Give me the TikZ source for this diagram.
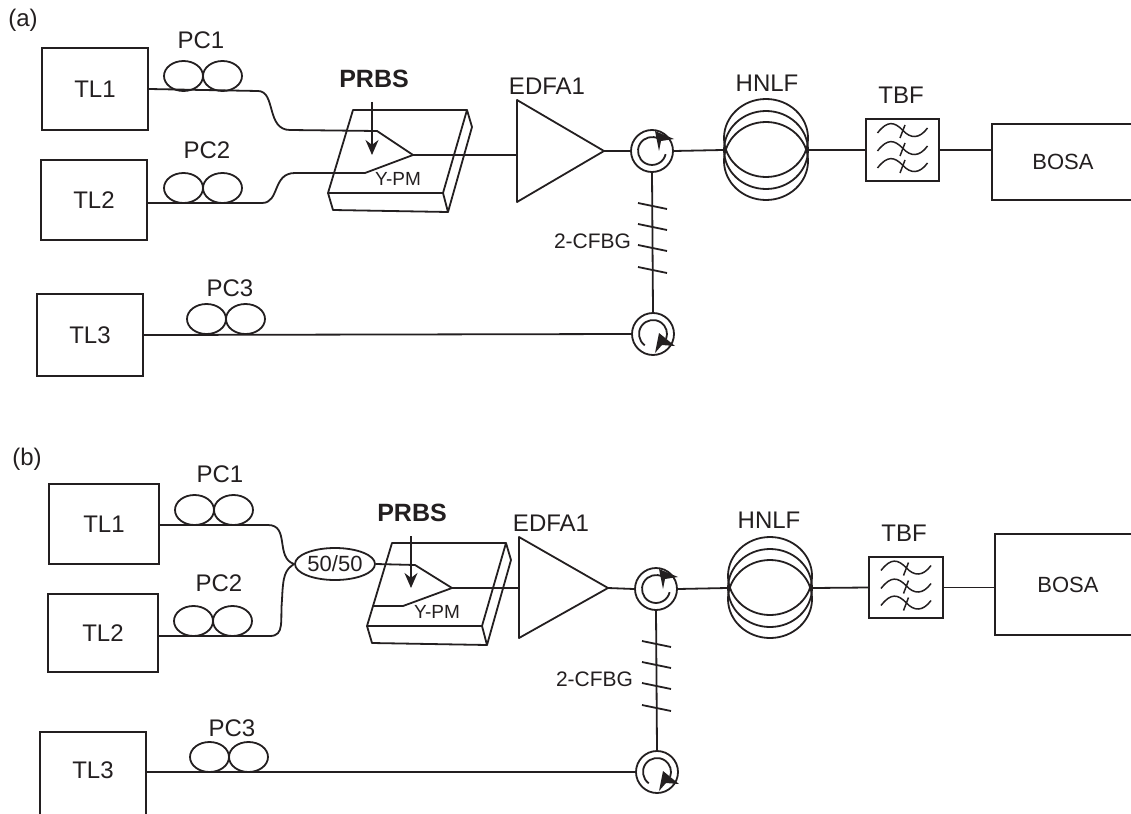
\documentclass[tikz,border=0pt]{standalone}
\usepackage{fontspec}
\setmainfont{Liberation Sans}
\usetikzlibrary{arrows.meta,shapes.geometric}
\definecolor{tinta}{HTML}{231F20}
\tikzset{
	laser/.style={draw,line width=1.8pt,minimum width=106pt,minimum height=82pt,inner sep=0pt,font=\fontsize{24}{28}\selectfont},
	fibre/.style={line width=1.8pt,line join=round},
	lbl/.style={font=\fontsize{24}{28}\selectfont,inner sep=0pt},
	lblsmall/.style={font=\fontsize{21}{24}\selectfont,inner sep=0pt},
	prbs/.style={font=\fontsize{25}{28}\bfseries\selectfont,inner sep=0pt},
	circulator/.style={draw,circle,line width=1.8pt,minimum size=42pt,inner sep=0pt},
	coil/.style={draw,ellipse,line width=1.8pt,minimum width=84pt,minimum height=78pt,inner sep=0pt},
	filterbox/.style={draw,line width=1.8pt,minimum width=73pt,minimum height=62pt,inner sep=0pt},
	coupler/.style={draw,ellipse,line width=1.8pt,minimum width=80pt,minimum height=32pt,inner sep=0pt,font=\fontsize{22}{26}\selectfont},
	pc/.pic={
		\draw[fibre] (-19.5,-15) ellipse (19.5 and 15);
		\draw[fibre] (19.5,-15) ellipse (19.5 and 15);
	},
	ypm/.pic={
		\draw[fibre] (353,110) -- (328,193) -- (443,193) -- (467,110) -- cycle;
		\draw[fibre] (328,193) -- (333,210) -- (448,212) -- (443,193);
		\draw[fibre] (448,212) -- (472,127) -- (467,110);
	},
	circtop/.pic={
		\draw[line width=1.8pt] (60:14pt) arc[start angle=60,end angle=347,radius=14pt];
		\fill (3pt,20pt) -- (22pt,12pt) -- (9pt,10pt) -- (7pt,0pt) -- cycle;
	},
	circbot/.pic={
		\draw[line width=1.8pt] (234:14pt) arc[start angle=234,end angle=-20,radius=14pt];
		\fill (6pt,1pt) -- (22pt,-12pt) -- (9pt,-11pt) -- (2pt,-19pt) -- cycle;
	},
	tbfwaves/.pic={
		\foreach \dy in {0,18,35}{
			\draw[line width=1.5pt] (-25,-17+\dy) .. controls (-15,-30+\dy) and (-8,-28+\dy) .. (0,-20+\dy) .. controls (8,-11+\dy) and (17,-11+\dy) .. (25,-22+\dy);
			\draw[line width=1.5pt] (2.5,-25+\dy) -- (-2.5,-12+\dy);
		}
	}
}
\begin{document}
\begin{tikzpicture}[x=1pt,y=-1pt,color=tinta]
	\useasboundingbox (0,0) rectangle (1131,813);

	%Figura (a)
	\node[lbl] (taga) at (23,20) {(a)};
	\node[laser] (tl1a) at (95,89) {TL1};
	\node[laser,minimum height=80pt] (tl2a) at (94,200) {TL2};
	\node[laser] (tl3a) at (90,335) {TL3};
	\node[laser,minimum width=142pt,minimum height=76pt,font=\fontsize{22}{26}\selectfont] (bosaa) at (1063,162) {BOSA};

	%Controladores de polarizacion
	\pic at (203,91) {pc};
	\pic at (203,203) {pc};
	\pic at (226,334) {pc};
	\node[lbl] (pc1a) at (201,40) {PC1};
	\node[lbl] (pc2a) at (207,150) {PC2};
	\node[lbl] (pc3a) at (230,288) {PC3};

	%Modulador
	\pic at (0,0) {ypm};
	\coordinate (joina) at (413,155);
	\draw[fibre] (tl1a.east) -- (258,91) .. controls (276,91) and (266,130) .. (290,130) -- (377,131) -- (joina);
	\draw[fibre] (tl2a.east |- 0,203) -- (262,203) .. controls (280,203) and (272,173) .. (295,173) -- (365,173) -- (joina);
	\node[prbs] (prbsa) at (374,79) {PRBS};
	\coordinate (taila) at (372,102);
	\draw[-{Stealth[length=15pt,width=13pt]},line width=1.8pt] (taila) -- (372,155);
	\node[lblsmall,font=\fontsize{19}{22}\selectfont] (pma) at (398,179) {Y-PM};

	%Amplificador, circuladores y fibra
	\coordinate (edfaain) at (517,155);
	\coordinate (edfaaout) at (604,151);
	\draw[fibre] (517,100) -- (edfaaout) -- (517,202) -- cycle;
	\draw[fibre] (joina) -- (edfaain);
	\node[lbl] (edfaa) at (547,86) {EDFA1};
	\node[circulator] (ca1) at (652,151) {};
	\node[circulator] (ca2) at (653,334) {};
	\pic at (ca1) {circtop};
	\pic at (ca2) {circbot};
	\draw[fibre] (edfaaout) -- (ca1.west);
	\draw[fibre] (ca1.south) -- (ca2.north);
	\draw[fibre] (tl3a.east) -- (ca2.west);
	\foreach \ty in {203,224,245,267}
		\draw[fibre] (638,\ty) -- (667,\ty+6);
	\node[lblsmall] (cfbga) at (592.5,241) {2-CFBG};
	\node[coil] (hnlfa) at (766,150) {};
	\draw[fibre] (766,138) ellipse (42 and 39);
	\draw[fibre] (766,161) ellipse (42 and 39);
	\node[lbl] (hnlflabela) at (767,83) {HNLF};
	\draw[fibre] (ca1.east) -- (hnlfa.west);

	%Filtro
	\node[filterbox] (tbfa) at (902.5,150) {};
	\pic at (tbfa) {tbfwaves};
	\node[lbl] (tbflabela) at (901,95) {TBF};
	\draw[fibre] (hnlfa.east) -- (tbfa.west);
	\draw[fibre] (tbfa.east) -- (bosaa.west |- tbfa.east);

	%Figura (b)
	\node[lbl] (tagb) at (27,459) {(b)};
	\node[laser,minimum width=110pt,minimum height=80pt] (tl1b) at (104,524) {TL1};
	\node[laser,minimum width=110pt,minimum height=78pt] (tl2b) at (103,633) {TL2};
	\node[laser,minimum height=100pt] (tl3b) at (93,782) {};
	\node[lbl] (tl3blabel) at (93,770) {TL3};
	\node[laser,minimum width=146pt,minimum height=101pt,font=\fontsize{22}{26}\selectfont] (bosab) at (1068,584.5) {BOSA};

	%Controladores de polarizacion
	\pic at (214,525) {pc};
	\pic at (213,636) {pc};
	\pic at (229,772) {pc};
	\node[lbl] (pc1b) at (220,474) {PC1};
	\node[lbl] (pc2b) at (219,583) {PC2};
	\node[lbl] (pc3b) at (232,728) {PC3};

	%Acoplador y modulador
	\node[coupler] (fiftyb) at (335,564) {50/50};
	\draw[fibre] (tl1b.east |- 0,525) -- (268,525) .. controls (290,525) and (275,558) .. (fiftyb.west);
	\draw[fibre] (tl2b.east |- 0,636) -- (270,636) .. controls (285,636) and (280,620) .. (282,600) .. controls (283,575) and (285,570) .. (fiftyb.west);
	\pic at (39,433) {ypm};
	\coordinate (joinb) at (452,588);
	\draw[fibre] (fiftyb.east) -- (415,565) -- (joinb);
	\draw[fibre] (373,606) -- (403,606) -- (joinb);
	\node[prbs] (prbsb) at (412,513) {PRBS};
	\coordinate (tailb) at (411,536);
	\draw[-{Stealth[length=15pt,width=13pt]},line width=1.8pt] (tailb) -- (411,588);
	\node[lblsmall,font=\fontsize{19}{22}\selectfont] (pmb) at (437,612) {Y-PM};

	%Amplificador, circuladores y fibra
	\coordinate (edfabin) at (519,588);
	\coordinate (edfabout) at (608,588);
	\draw[fibre] (519,537) -- (edfabout) -- (519,638) -- cycle;
	\draw[fibre] (joinb) -- (edfabin);
	\node[lbl] (edfab) at (551,523) {EDFA1};
	\node[circulator] (cb1) at (656,589) {};
	\node[circulator] (cb2) at (657,772) {};
	\pic at (cb1) {circtop};
	\pic at (cb2) {circbot};
	\draw[fibre] (edfabout) -- (cb1.west);
	\draw[fibre] (cb1.south) -- (cb2.north);
	\draw[fibre] (tl3b.east |- cb2.west) -- (cb2.west);
	\foreach \ty in {641,662,683,705}
		\draw[fibre] (642,\ty) -- (671,\ty+6);
	\node[lblsmall] (cfbgb) at (594.5,679) {2-CFBG};
	\node[coil] (hnlfb) at (770,588) {};
	\draw[fibre] (770,576) ellipse (42 and 39);
	\draw[fibre] (770,599) ellipse (42 and 39);
	\node[lbl] (hnlflabelb) at (769,520) {HNLF};
	\draw[fibre] (cb1.east) -- (hnlfb.west);

	%Filtro
	\node[filterbox,minimum width=74pt,minimum height=61pt] (tbfb) at (906,587.5) {};
	\pic at (tbfb) {tbfwaves};
	\node[lbl] (tbflabelb) at (904,533) {TBF};
	\draw[fibre] (hnlfb.east) -- (tbfb.west);
	\draw[fibre] (tbfb.east) -- (bosab.west |- tbfb.east);
\end{tikzpicture}
\end{document}
